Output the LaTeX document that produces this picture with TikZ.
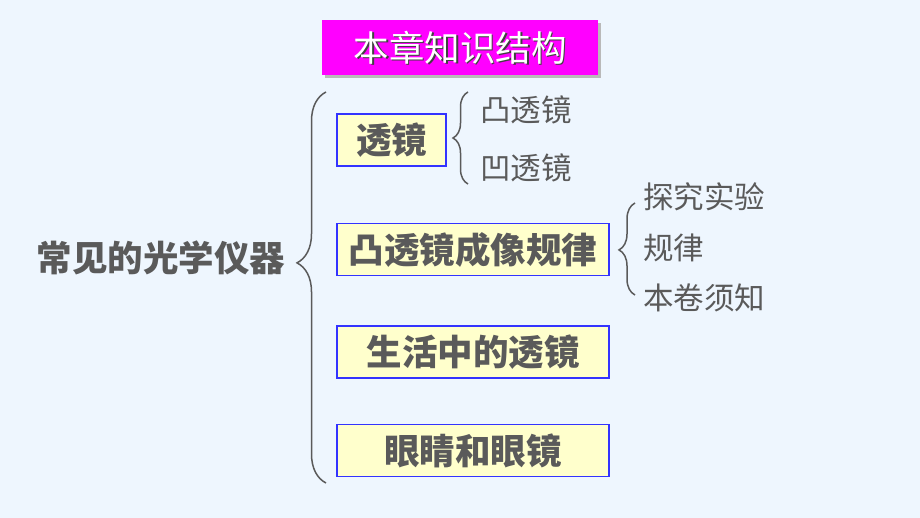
\documentclass[tikz,border=0pt]{standalone}
\usepackage{fontspec}
\setmainfont{Noto Sans CJK SC}
\usetikzlibrary{decorations.pathreplacing,positioning}
\definecolor{pagebg}{HTML}{EEF6FE}
\definecolor{textgray}{HTML}{5A5A5A}
\definecolor{boxfill}{HTML}{FFFFCC}
\definecolor{boxline}{HTML}{3333FF}
\definecolor{titlebg}{HTML}{FF00FF}
\begin{document}
\begin{tikzpicture}[x=1pt,y=-1pt,
    topic/.style={draw=boxline,fill=boxfill,line width=1.2pt,text=textgray,
      font=\fontsize{35.5}{35.5}\selectfont\bfseries,minimum height=52pt,inner sep=0pt},
    item/.style={text=textgray,font=\fontsize{30.5}{30.5}\selectfont,anchor=west,inner sep=0pt},
    curly/.style={draw=textgray,line width=1.5pt,decorate,
      decoration={brace,amplitude=#1}}]
    \fill[pagebg] (0,0) rectangle (920,518);
    \useasboundingbox (0,0) rectangle (920,518);
    % title with shadow
    \fill[gray!55] (325,23) rectangle (601,78);
    \node[fill=titlebg,minimum width=276pt,minimum height=55pt,inner sep=0pt] (title) at (460,47.5) {};
    \node[text=black!75,font=\fontsize{35.5}{35.5}\selectfont,xshift=1.5pt,yshift=-1.5pt] at (title) {本章知识结构};
    \node[text=white,font=\fontsize{35.5}{35.5}\selectfont] at (title) {本章知识结构};
    % main topic and its brace
    \node[text=textgray,font=\fontsize{35.5}{35.5}\selectfont\bfseries] (optics) at (161,258) {常见的光学仪器};
    \coordinate (B1) at (326,483);
    \coordinate (B2) at (326,92);
    \draw[curly=29pt,decoration={aspect=0.563}] (B1) -- (B2);
    % the four chapters
    \node[topic,minimum width=109pt] (lens) at (391.5,140) {透镜};
    \node[topic,minimum width=272pt] (rule) at (473,249.5) {凸透镜成像规律};
    \node[topic,minimum width=272pt] (life) at (473,352) {生活中的透镜};
    \node[topic,minimum width=272pt] (eye) at (473,450.5) {眼睛和眼镜};
    % sub items of lens
    \coordinate (L1) at (468,184);
    \coordinate (L2) at (468,92);
    \draw[curly=15pt] (L1) -- (L2);
    \node[item] (convex) at (480,110) {凸透镜};
    \node[item] (concave) at (480,168) {凹透镜};
    % sub items of rule
    \coordinate (R1) at (635,295);
    \coordinate (R2) at (635,203);
    \draw[curly=16pt,decoration={aspect=0.49}] (R1) -- (R2);
    \node[item] (exper) at (643,197) {探究实验};
    \node[item] (law) at (643,248) {规律};
    \node[item] (notes) at (643,298) {本卷须知};
\end{tikzpicture}
\end{document}
